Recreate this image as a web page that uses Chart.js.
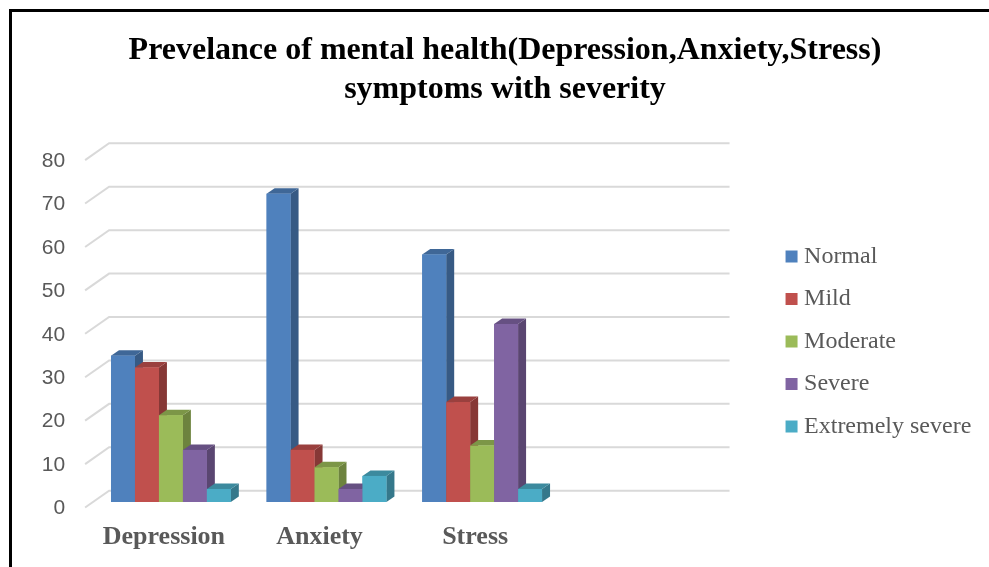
<!DOCTYPE html>
<html><head><meta charset="utf-8">
<script src="https://cdn.jsdelivr.net/npm/chart.js@4.4.1/dist/chart.umd.min.js"></script>
<style>html,body{margin:0;padding:0;background:#fff;}</style>
</head><body>
<canvas id="c" width="989" height="567"></canvas>
<script>
// ---- data ----
const categories = ['Depression', 'Anxiety', 'Stress', ''];
const seriesNames = ['Normal', 'Mild', 'Moderate', 'Severe', 'Extremely severe'];
const normal = [33.7, 71, 57];
const mild = [31, 12, 23];
const moderate = [20, 8, 13];
const severe = [12, 3, 41];
const extremelySevere = [3, 6, 3];
const yTickStep = 10;
const yMax = 80;
const titleLines = ['Prevelance of mental health(Depression,Anxiety,Stress)', 'symptoms with severity'];

// ---- styles ----
const colors = ['#4F81BD', '#C0504D', '#9BBB59', '#8064A2', '#4BACC6'];
const seriesData = [normal, mild, moderate, severe, extremelySevere];

function shade(hex, f) {
  const n = parseInt(hex.slice(1), 16);
  const r = Math.round(((n >> 16) & 255) * f), g = Math.round(((n >> 8) & 255) * f), b = Math.round((n & 255) * f);
  return 'rgb(' + r + ',' + g + ',' + b + ')';
}

const BAR_DX = 8, BAR_DY = 5.5;     // bar depth
const WALL_DX = 16, WALL_DY = 11.3; // back wall offset from bar front plane
const FRONT_DX = 8, FRONT_DY = 5.5; // floor front edge offset

const threeD = {
  id: 'threeD',
  beforeDatasetsDraw(chart) {
    const {ctx, chartArea, scales: {y}} = chart;
    ctx.save();
    ctx.strokeStyle = '#d9d9d9';
    ctx.lineWidth = 2;
    y.ticks.forEach(t => {
      const py = y.getPixelForValue(t.value);
      ctx.beginPath();
      ctx.moveTo(chartArea.left - FRONT_DX, py + FRONT_DY);
      ctx.lineTo(chartArea.left + WALL_DX, py - WALL_DY);
      ctx.lineTo(chartArea.right + WALL_DX - 2, py - WALL_DY);
      ctx.stroke();
    });
    ctx.restore();
  },
  afterDatasetsDraw(chart) {
    const {ctx} = chart;
    ctx.save();
    const n = chart.data.labels.length;
    for (let i = 0; i < n; i++) {
      for (let d = 0; d < chart.data.datasets.length; d++) {
        const meta = chart.getDatasetMeta(d);
        const el = meta.data[i];
        if (!el || chart.data.datasets[d].data[i] == null) continue;
        const p = el.getProps(['x', 'y', 'base', 'width'], true);
        const c = colors[d];
        const l = p.x - p.width / 2, r = p.x + p.width / 2, top = p.y, base = p.base;
        // side face
        ctx.fillStyle = shade(c, 0.7);
        ctx.beginPath();
        ctx.moveTo(r, top); ctx.lineTo(r + BAR_DX, top - BAR_DY);
        ctx.lineTo(r + BAR_DX, base - BAR_DY); ctx.lineTo(r, base);
        ctx.closePath(); ctx.fill();
        // top face
        ctx.fillStyle = shade(c, 0.8);
        ctx.beginPath();
        ctx.moveTo(l, top); ctx.lineTo(l + BAR_DX, top - BAR_DY);
        ctx.lineTo(r + BAR_DX, top - BAR_DY); ctx.lineTo(r, top);
        ctx.closePath(); ctx.fill();
        // front face
        ctx.fillStyle = c;
        ctx.fillRect(l, top, p.width, base - top);
      }
    }
    ctx.restore();
  },
  afterDraw(chart) {
    const {ctx} = chart;
    ctx.save();
    ctx.fillStyle = '#000';
    ctx.fillRect(9, 9, 3, chart.height);
    ctx.fillRect(9, 9, chart.width, 3);
    ctx.restore();
  }
};

const whiteBg = {
  id: 'whiteBg',
  beforeDraw(chart) {
    const {ctx} = chart;
    ctx.save(); ctx.fillStyle = '#fff'; ctx.fillRect(0, 0, chart.width, chart.height); ctx.restore();
  }
};

new Chart(document.getElementById('c'), {
  type: 'bar',
  data: {
    labels: categories,
    datasets: seriesNames.map((name, k) => ({
      label: name,
      data: seriesData[k],
      backgroundColor: colors[k],
      borderWidth: 0,
      categoryPercentage: 0.77,
      barPercentage: 1
    }))
  },
  options: {
    responsive: false,
    animation: false,
    devicePixelRatio: 1,
    layout: {padding: {left: 28.7, right: 7.7, top: 0, bottom: 0}},
    plugins: {
      title: {
        display: true,
        text: titleLines,
        color: '#000',
        font: {family: 'Liberation Serif', size: 32, weight: 'bold', lineHeight: 1.2},
        padding: {top: 31.8, bottom: 46}
      },
      legend: {
        position: 'right',
        fullSize: false,
        maxWidth: 320,
        title: {display: true, text: '', font: {size: 1, lineHeight: 1}, padding: {top: 12.7, bottom: 12.7}},
        labels: {
          font: {family: 'Liberation Serif', size: 24},
          color: '#595959',
          usePointStyle: true,
          pointStyle: 'rect',
          boxWidth: 1,
          boxHeight: 12,
          padding: 18.5
        }
      },
      tooltip: {enabled: false}
    },
    scales: {
      x: {
        grid: {display: false, drawTicks: false},
        border: {display: false},
        ticks: {
          font: {family: 'Liberation Serif', size: 26, weight: 'bold'},
          color: '#595959', padding: 20.1, labelOffset: -7, maxRotation: 0, autoSkip: false
        },
        afterFit(s) { s.height = 65; }
      },
      y: {
        min: 0, max: yMax,
        grid: {display: false, drawTicks: false},
        border: {display: false},
        ticks: {
          stepSize: yTickStep,
          font: {family: 'Liberation Sans', size: 21},
          color: '#595959', padding: 28, labelOffset: 6.5
        },
        afterFit(s) { s.width = 64.4; }
      },
      yRight: {
        position: 'right', display: true,
        grid: {display: false, drawTicks: false},
        border: {display: false},
        ticks: {display: false},
        afterFit(s) { s.width = 57; }
      }
    }
  },
  plugins: [whiteBg, threeD]
});
</script>
</body></html>
